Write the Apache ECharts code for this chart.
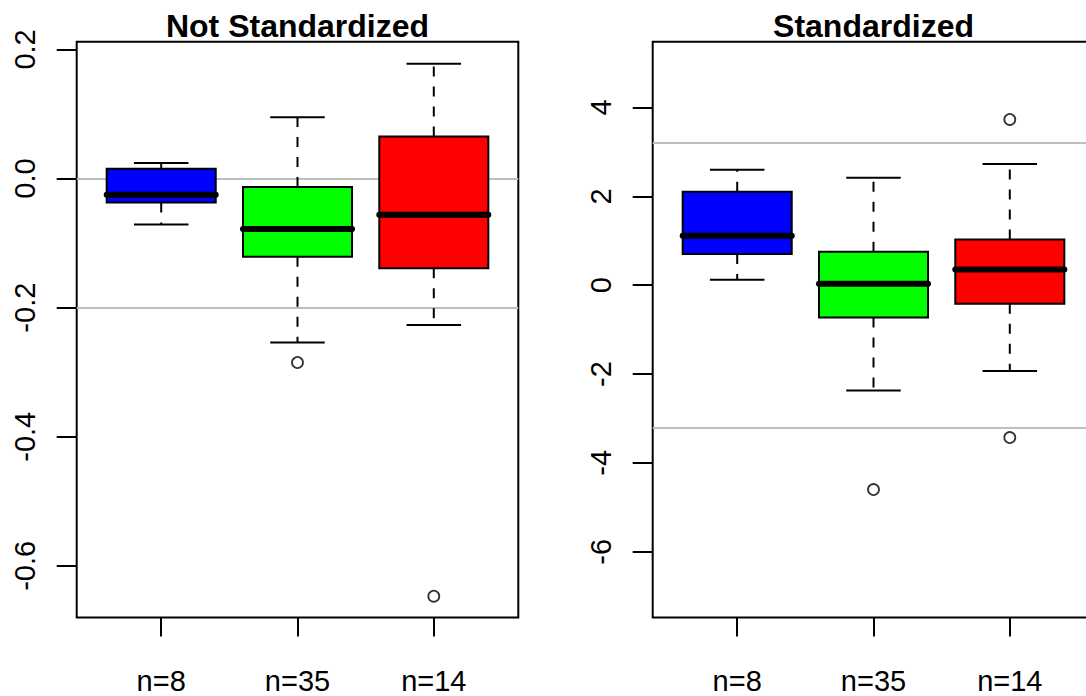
<!DOCTYPE html>
<html>
<head>
<meta charset="utf-8">
<script src="https://cdn.jsdelivr.net/npm/echarts@6/dist/echarts.min.js"></script>
<style>
html,body{margin:0;padding:0;background:#ffffff;}
#chart{width:1086px;height:696px;}
</style>
</head>
<body>
<div id="chart"></div>
<script>
// ---------------- data ----------------
const categories = ['n=8', 'n=35', 'n=14'];
const groupPositions = [1, 2, 3];
const boxColors = ['#0000FF', '#00FF00', '#FF0000'];
const titles = ['Not Standardized', 'Standardized'];

// each box: [lower whisker, Q1, median, Q3, upper whisker]
const notStdBlue  = [-0.071, -0.037, -0.025, 0.015, 0.024];
const notStdGreen = [-0.254, -0.121, -0.078, -0.013, 0.095];
const notStdRed   = [-0.227, -0.139, -0.056, 0.065, 0.178];
const notStdOutliers = [[2, -0.285], [3, -0.647]];
const notStdRefLines = [0, -0.2];
const notStdTicks = [-0.6, -0.4, -0.2, 0.0, 0.2];
const notStdRange = [-0.680, 0.212];

const stdBlue  = [0.12, 0.70, 1.11, 2.10, 2.60];
const stdGreen = [-2.37, -0.73, 0.03, 0.75, 2.42];
const stdRed   = [-1.93, -0.42, 0.35, 1.03, 2.73];
const stdOutliers = [[2, -4.6], [3, 3.73], [3, -3.43]];
const stdRefLines = [3.2, -3.2];
const stdTicks = [-6, -4, -2, 0, 2, 4];
const stdRange = [-7.48, 5.48];

const xRange = [0.38, 3.62];

// ---------------- style ----------------
const FONT = 'Liberation Sans, Arial, Helvetica, sans-serif';
const BOX_HALF = 0.4;
const CAP_HALF = 0.2;

function boxData(groups) {
  return groups.map(function (g, i) {
    return { value: [groupPositions[i]].concat(g), itemStyle: { color: boxColors[i] } };
  });
}

function renderBox(params, api) {
  const x = api.value(0);
  const lo = api.value(1), q1 = api.value(2), med = api.value(3), q3 = api.value(4), hi = api.value(5);
  const halfBox = api.size([BOX_HALF, 0])[0];
  const halfCap = api.size([CAP_HALF, 0])[0];
  const pLo = api.coord([x, lo]);
  const pQ1 = api.coord([x, q1]);
  const pMed = api.coord([x, med]);
  const pQ3 = api.coord([x, q3]);
  const pHi = api.coord([x, hi]);
  const cx = pMed[0];
  const color = api.visual('color');
  const dashStyle = { stroke: '#000', lineWidth: 2, lineDash: [10, 10], fill: null };
  const solid = { stroke: '#000', lineWidth: 2, fill: null };
  return {
    type: 'group',
    children: [
      { type: 'line', shape: { x1: cx, y1: pQ3[1], x2: cx, y2: pHi[1] }, style: dashStyle },
      { type: 'line', shape: { x1: cx, y1: pQ1[1], x2: cx, y2: pLo[1] }, style: dashStyle },
      { type: 'line', shape: { x1: cx - halfCap, y1: pHi[1], x2: cx + halfCap, y2: pHi[1] }, style: solid },
      { type: 'line', shape: { x1: cx - halfCap, y1: pLo[1], x2: cx + halfCap, y2: pLo[1] }, style: solid },
      { type: 'rect', shape: { x: cx - halfBox, y: pQ3[1], width: 2 * halfBox, height: pQ1[1] - pQ3[1] },
        style: { fill: color, stroke: '#000', lineWidth: 2 } },
      { type: 'line', shape: { x1: cx - halfBox, y1: pMed[1], x2: cx + halfBox, y2: pMed[1] },
        style: { stroke: '#000', lineWidth: 6, lineCap: 'round', fill: null } }
    ]
  };
}

function xAxisFor(gridIndex) {
  return {
    type: 'value', gridIndex: gridIndex, min: xRange[0], max: xRange[1],
    axisLine: { show: false, onZero: false },
    splitLine: { show: false },
    axisTick: { show: true, customValues: groupPositions, length: 19, lineStyle: { color: '#000', width: 2 } },
    axisLabel: {
      customValues: groupPositions,
      formatter: function (v) { return categories[groupPositions.indexOf(v)]; },
      color: '#000', fontSize: 29, fontFamily: FONT, margin: 49
    }
  };
}

function yAxisFor(gridIndex, range, ticks, digits) {
  return {
    type: 'value', gridIndex: gridIndex, min: range[0], max: range[1],
    axisLine: { show: false, onZero: false },
    splitLine: { show: false },
    axisTick: { show: true, customValues: ticks, length: 20, lineStyle: { color: '#000', width: 2 } },
    axisLabel: {
      customValues: ticks,
      formatter: function (v) { return Number(v).toFixed(digits); },
      rotate: 90, align: 'center', verticalAlign: 'middle',
      color: '#000', fontSize: 29, fontFamily: FONT, margin: 52
    }
  };
}

function refLines(vals) {
  return {
    silent: true, symbol: 'none', z: 1,
    label: { show: false },
    lineStyle: { color: '#BEBEBE', width: 2, type: 'solid' },
    data: vals.map(function (v) { return { yAxis: v }; })
  };
}

const gridCommon = { top: 41.7, width: 441.6, height: 575.8, show: true, borderColor: '#000', borderWidth: 2,
  backgroundColor: 'transparent', containLabel: false, outerBoundsMode: 'none' };

const option = {
  backgroundColor: '#ffffff',
  animation: false,
  grid: [
    Object.assign({ left: 76.7 }, gridCommon),
    Object.assign({ left: 652.7 }, gridCommon)
  ],
  xAxis: [xAxisFor(0), xAxisFor(1)],
  yAxis: [yAxisFor(0, notStdRange, notStdTicks, 1), yAxisFor(1, stdRange, stdTicks, 0)],
  graphic: [
    { type: 'text', x: 297.5, y: 26, style: { text: titles[0], textAlign: 'center', textVerticalAlign: 'middle',
      font: 'bold 32px ' + FONT, fill: '#000' } },
    { type: 'text', x: 873.5, y: 26, style: { text: titles[1], textAlign: 'center', textVerticalAlign: 'middle',
      font: 'bold 32px ' + FONT, fill: '#000' } }
  ],
  series: [
    { type: 'scatter', xAxisIndex: 0, yAxisIndex: 0, z: 1, symbol: 'circle', symbolSize: 11,
      itemStyle: { color: 'rgba(0,0,0,0)', borderColor: '#000', borderWidth: 1.8 },
      data: notStdOutliers, markLine: refLines(notStdRefLines) },
    { type: 'custom', xAxisIndex: 0, yAxisIndex: 0, z: 3, renderItem: renderBox,
      encode: { x: 0, y: [1, 2, 3, 4, 5] },
      data: boxData([notStdBlue, notStdGreen, notStdRed]) },
    { type: 'scatter', xAxisIndex: 1, yAxisIndex: 1, z: 1, symbol: 'circle', symbolSize: 11,
      itemStyle: { color: 'rgba(0,0,0,0)', borderColor: '#000', borderWidth: 1.8 },
      data: stdOutliers, markLine: refLines(stdRefLines) },
    { type: 'custom', xAxisIndex: 1, yAxisIndex: 1, z: 3, renderItem: renderBox,
      encode: { x: 0, y: [1, 2, 3, 4, 5] },
      data: boxData([stdBlue, stdGreen, stdRed]) }
  ]
};

const chart = echarts.init(document.getElementById('chart'), null, { renderer: 'svg', width: 1086, height: 696 });
chart.setOption(option);
</script>
</body>
</html>
